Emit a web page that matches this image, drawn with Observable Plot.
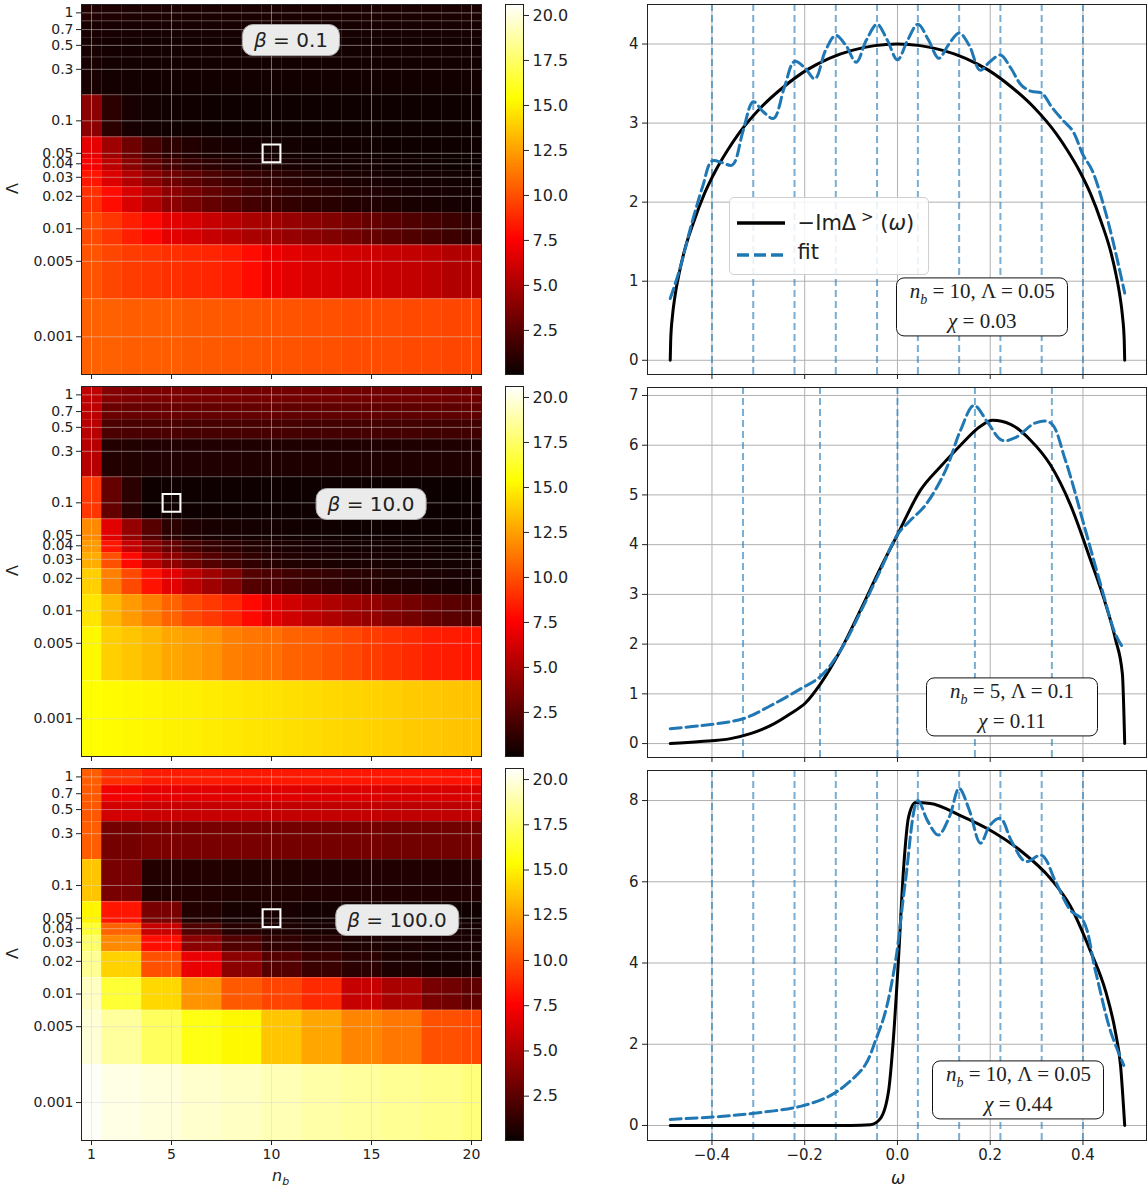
<!DOCTYPE html>
<html><head><meta charset="utf-8">
<script src="https://cdn.jsdelivr.net/npm/d3@7"></script>
<script src="https://cdn.jsdelivr.net/npm/@observablehq/plot@0.6"></script>
<style>
body{margin:0;background:#fff;}
#root{position:relative;width:1148px;height:1192px;overflow:hidden;font-family:"DejaVu Sans",sans-serif;color:#222;}
.beta{position:absolute;transform:translate(-50%,-50%);background:#ebebeb;border:1px solid #aaa;border-radius:11px;padding:3px 11px;font-size:20px;white-space:nowrap;}
.tex{position:absolute;transform:translate(-50%,-50%);box-sizing:border-box;width:172px;background:#fff;border:1.4px solid #111;border-radius:8px;padding:2px 6px;font-family:"Liberation Serif","DejaVu Serif",serif;font-size:21px;line-height:23px;text-align:center;white-space:nowrap;}
.lab{position:absolute;white-space:nowrap;}
</style></head>
<body><div id="root"></div>
<script>
// ---------------- data ----------------
const lambdas = [1, 0.7, 0.5, 0.3, 0.1, 0.05, 0.04, 0.03, 0.02, 0.01, 0.005, 0.001];
const lambdaLabels = ["1","0.7","0.5","0.3","0.1","0.05","0.04","0.03","0.02","0.01","0.005","0.001"];
const nbValues = [1,2,3,4,5,6,7,8,9,10,11,12,13,14,15,16,17,18,19,20];
const nbTicks = [1,5,10,15,20];
const betas = ["0.1","10.0","100.0"];
const colorTicks = [2.5,5.0,7.5,10.0,12.5,15.0,17.5,20.0];
const colorMin = 0.05, colorMax = 20.61;

// chi values, rows follow lambdas, columns follow nbValues
const chiBeta01 = [
 [0.7,0.65,0.6,0.6,0.55,0.55,0.55,0.55,0.55,0.55,0.55,0.55,0.55,0.55,0.55,0.55,0.55,0.55,0.55,0.55],
 [0.5,0.45,0.42,0.4,0.4,0.4,0.4,0.4,0.4,0.4,0.4,0.4,0.4,0.4,0.4,0.4,0.4,0.4,0.4,0.4],
 [0.4,0.35,0.33,0.32,0.32,0.32,0.32,0.32,0.32,0.32,0.32,0.32,0.32,0.32,0.32,0.32,0.32,0.32,0.32,0.32],
 [0.45,0.33,0.3,0.28,0.28,0.28,0.28,0.28,0.28,0.28,0.28,0.28,0.28,0.28,0.28,0.28,0.28,0.28,0.28,0.28],
 [4.0,1.1,0.45,0.3,0.25,0.22,0.2,0.2,0.2,0.2,0.2,0.2,0.2,0.2,0.2,0.2,0.2,0.2,0.2,0.2],
 [6.8,4.6,3.1,1.9,1.1,0.8,0.55,0.45,0.35,0.3,0.3,0.25,0.25,0.22,0.22,0.2,0.2,0.2,0.2,0.2],
 [7.3,5.5,4.0,2.8,1.9,1.4,1.1,0.85,0.65,0.55,0.45,0.4,0.35,0.3,0.3,0.25,0.25,0.22,0.2,0.2],
 [8.2,6.5,5.2,4.0,3.1,2.6,2.1,1.7,1.4,1.15,0.95,0.8,0.65,0.55,0.45,0.4,0.35,0.3,0.3,0.25],
 [9.0,7.9,6.4,5.2,4.0,3.4,2.8,2.3,1.8,1.5,1.3,1.1,0.95,0.8,0.7,0.6,0.5,0.45,0.4,0.35],
 [9.8,9.2,8.5,7.8,6.7,6.3,5.8,5.4,4.9,4.6,4.3,4.0,3.7,3.3,2.8,2.5,2.2,1.9,1.6,1.25],
 [10.1,9.7,9.4,9.2,9.0,8.8,8.7,8.4,7.9,7.0,6.7,6.4,6.3,6.1,6.0,5.8,5.7,5.5,5.2,5.1],
 [10.5,10.5,10.4,10.4,10.4,10.3,10.3,10.2,10.2,10.1,10.1,10.0,10.0,9.9,9.9,9.9,9.8,9.8,9.7,9.7]
];
const chiBeta10 = [
 [5.6,3.8,3.6,3.5,3.5,3.4,3.4,3.4,3.3,3.3,3.3,3.3,3.3,3.2,3.2,3.2,3.2,3.2,3.1,3.1],
 [5.5,3.0,2.9,2.9,2.9,2.8,2.8,2.8,2.8,2.8,2.7,2.7,2.7,2.7,2.7,2.6,2.6,2.6,2.6,2.6],
 [5.4,2.1,2.0,2.0,2.0,1.9,1.9,1.9,1.9,1.9,1.9,1.8,1.8,1.8,1.8,1.8,1.8,1.7,1.7,1.7],
 [5.3,0.8,0.75,0.7,0.7,0.7,0.7,0.7,0.65,0.65,0.65,0.65,0.65,0.65,0.65,0.65,0.65,0.65,0.65,0.65],
 [9.2,2.8,1.05,0.2,0.15,0.15,0.15,0.15,0.15,0.15,0.15,0.15,0.15,0.15,0.12,0.12,0.12,0.12,0.12,0.12],
 [11.8,6.7,4.3,2.4,1.05,0.65,0.5,0.4,0.35,0.3,0.28,0.25,0.22,0.2,0.2,0.18,0.18,0.16,0.15,0.15],
 [12.3,8.2,5.8,4.0,2.8,1.9,1.4,1.1,0.8,0.65,0.55,0.45,0.4,0.35,0.3,0.3,0.25,0.25,0.2,0.2],
 [12.9,10.0,7.8,5.5,4.1,3.1,2.3,1.7,1.2,0.9,0.75,0.65,0.55,0.5,0.45,0.4,0.35,0.3,0.3,0.3],
 [13.9,11.5,9.8,8.1,6.7,5.5,4.6,3.7,2.3,2.0,1.7,1.45,1.25,1.05,0.9,0.75,0.65,0.55,0.45,0.4],
 [14.6,13.2,12.3,11.5,10.6,9.8,9.3,8.7,7.8,6.7,6.1,5.5,5.1,4.6,4.2,3.7,3.3,2.8,2.5,2.2],
 [15.2,13.9,13.6,13.2,12.7,12.4,12.1,11.5,11.2,11.0,10.6,10.4,10.1,9.8,9.4,9.1,8.8,8.5,8.4,8.2],
 [15.4,15.3,15.2,15.1,15.0,14.9,14.8,14.7,14.6,14.5,14.4,14.3,14.2,14.1,14.0,13.9,13.8,13.7,13.6,13.5]
];
const chiBeta100 = [
 [10.4,9.0,9.0,8.4,8.4,8.4,8.4,8.3,8.3,8.3,8.3,8.3,8.3,8.2,8.2,8.2,8.2,8.2,8.1,8.1],
 [10.3,7.2,7.2,6.8,6.8,6.7,6.7,6.6,6.6,6.6,6.6,6.5,6.5,6.5,6.5,6.4,6.4,6.4,6.4,6.4],
 [10.2,6.2,6.2,5.9,5.9,5.8,5.8,5.8,5.8,5.7,5.7,5.7,5.7,5.7,5.7,5.6,5.6,5.6,5.6,5.6],
 [10.4,3.3,3.3,3.5,3.5,3.4,3.4,3.4,3.4,3.3,3.3,3.3,3.3,3.3,3.3,3.2,3.2,3.2,3.2,3.2],
 [13.6,3.4,3.4,0.8,0.8,0.8,0.8,0.75,0.75,0.75,0.75,0.7,0.7,0.7,0.7,0.7,0.7,0.7,0.7,0.7],
 [15.1,8.2,8.2,3.4,3.4,0.8,0.8,0.4,0.4,0.5,0.5,0.3,0.3,0.3,0.3,0.25,0.25,0.25,0.25,0.25],
 [16.5,10.6,10.6,5.8,5.8,2.2,2.2,0.9,0.9,0.6,0.6,0.5,0.5,0.45,0.45,0.4,0.4,0.4,0.4,0.4],
 [17.6,11.8,11.8,8.0,8.0,4.0,4.0,2.2,2.2,1.2,1.2,0.9,0.9,0.6,0.6,0.55,0.55,0.5,0.5,0.5],
 [18.4,14.0,14.0,10.0,10.0,6.9,6.9,4.0,4.0,2.3,2.3,1.5,1.5,1.0,1.0,0.6,0.6,0.4,0.4,0.4],
 [19.4,16.5,16.5,14.2,14.2,12.1,12.1,10.3,10.3,9.6,9.6,8.8,8.8,5.8,5.8,4.9,4.9,3.4,3.2,2.6],
 [19.8,18.6,18.6,17.3,17.3,15.8,15.8,15.2,15.2,13.6,13.6,12.7,12.7,11.6,11.6,11.2,11.2,10.0,10.0,9.8],
 [20.5,20.1,20.1,19.9,19.9,19.6,19.6,19.4,19.4,19.1,19.1,18.8,18.8,18.6,18.6,18.4,18.4,18.2,18.2,17.9]
];
const markerNb = [10, 5, 10];
const markerLambda = [0.05, 0.1, 0.05];
const betaLabelNb = [11, 15, 16.3];
const betaLabelLambda = [0.55, 0.097, 0.048];

// right column: spectral function and fit
const omegaTicks = [-0.4,-0.2,0.0,0.2,0.4];
const yTicks1 = [0,1,2,3,4];
const yTicks2 = [0,1,2,3,4,5,6,7];
const yTicks3 = [0,2,4,6,8];
const poles10 = [-0.4,-0.311,-0.222,-0.133,-0.044,0.044,0.133,0.222,0.311,0.4];
const poles5 = [-0.333,-0.167,0,0.167,0.333];
const seriesNames = ["\u2212Im\u0394", "fit"];
const boxNb = ["10","5","10"];
const boxLambda = ["0.05","0.1","0.05"];
const boxChi = ["0.03","0.11","0.44"];
const boxOmega = [0.184, 0.248, 0.262];
const boxValue = [0.67, 0.72, 0.86];

const exact1 = [[-0.49,0],[-0.489,0.25],[-0.485,0.57],[-0.48,0.8],[-0.47,1.12],[-0.46,1.37],[-0.44,1.74],[-0.416,2.11],[-0.392,2.4],[-0.367,2.65],[-0.343,2.86],[-0.294,3.2],[-0.245,3.46],[-0.196,3.67],[-0.147,3.82],[-0.098,3.92],[-0.049,3.98],[0,4.0],[0.049,3.98],[0.098,3.92],[0.147,3.82],[0.196,3.67],[0.245,3.46],[0.294,3.2],[0.343,2.86],[0.367,2.65],[0.392,2.4],[0.416,2.11],[0.44,1.74],[0.46,1.37],[0.47,1.12],[0.48,0.8],[0.485,0.57],[0.489,0.25],[0.49,0]];
const fit1 = [[-0.49,0.78],[-0.47,1.14],[-0.445,1.7],[-0.42,2.2],[-0.4,2.52],[-0.378,2.5],[-0.356,2.47],[-0.333,2.9],[-0.311,3.27],[-0.289,3.14],[-0.267,3.06],[-0.244,3.45],[-0.222,3.78],[-0.2,3.7],[-0.178,3.56],[-0.155,3.92],[-0.133,4.11],[-0.111,3.98],[-0.089,3.77],[-0.067,4.05],[-0.044,4.25],[-0.022,4.05],[0,3.8],[0.022,4.05],[0.044,4.25],[0.067,4.05],[0.089,3.82],[0.111,4.0],[0.133,4.14],[0.155,3.98],[0.178,3.67],[0.2,3.78],[0.222,3.86],[0.244,3.7],[0.267,3.48],[0.289,3.4],[0.311,3.38],[0.333,3.2],[0.356,3.04],[0.378,2.9],[0.4,2.6],[0.42,2.4],[0.445,1.95],[0.467,1.45],[0.49,0.85]];
const exact2 = [[-0.49,0],[-0.425,0.04],[-0.36,0.1],[-0.317,0.2],[-0.274,0.36],[-0.231,0.6],[-0.198,0.82],[-0.166,1.2],[-0.123,1.87],[-0.08,2.68],[-0.037,3.52],[0,4.2],[0.05,5.1],[0.093,5.57],[0.136,6.0],[0.179,6.38],[0.205,6.5],[0.244,6.42],[0.287,6.1],[0.33,5.6],[0.373,4.8],[0.416,3.7],[0.449,2.8],[0.47,2.1],[0.485,1.4],[0.49,0]];
const fit2 = [[-0.49,0.3],[-0.425,0.36],[-0.333,0.5],[-0.274,0.76],[-0.209,1.1],[-0.166,1.35],[-0.123,1.87],[-0.08,2.64],[-0.037,3.48],[0,4.2],[0.028,4.49],[0.06,4.79],[0.104,5.5],[0.136,6.3],[0.165,6.8],[0.195,6.45],[0.225,6.1],[0.254,6.15],[0.298,6.45],[0.33,6.45],[0.362,5.7],[0.405,4.3],[0.438,3.2],[0.47,2.2],[0.488,1.9]];
const exact3 = [[-0.49,0],[-0.3,0],[-0.1,0],[-0.058,0.02],[-0.037,0.17],[-0.019,0.86],[-0.009,2.1],[0.002,4.06],[0.013,6.3],[0.024,7.6],[0.039,7.95],[0.071,7.93],[0.136,7.63],[0.2,7.27],[0.265,6.77],[0.33,6.08],[0.373,5.4],[0.416,4.3],[0.449,3.3],[0.47,2.3],[0.481,1.48],[0.49,0]];
const fit3 = [[-0.49,0.15],[-0.382,0.22],[-0.295,0.32],[-0.209,0.47],[-0.144,0.74],[-0.101,1.1],[-0.069,1.5],[-0.047,2.1],[-0.026,2.8],[-0.004,4.06],[0.017,6.0],[0.044,8.0],[0.065,7.5],[0.088,7.15],[0.112,7.6],[0.133,8.3],[0.155,7.76],[0.179,6.95],[0.2,7.4],[0.222,7.56],[0.246,7.0],[0.276,6.5],[0.311,6.65],[0.341,6.0],[0.373,5.3],[0.4,5.05],[0.427,3.8],[0.459,2.34],[0.488,1.48]];

// -------------- helpers ----------------
const root = document.getElementById("root");
function hot(t){
  t = Math.max(0, Math.min(1, t));
  const r = t < 0.365079 ? 0.0416 + (1 - 0.0416) * t / 0.365079 : 1;
  const g = t < 0.365079 ? 0 : t < 0.746032 ? (t - 0.365079) / (0.746032 - 0.365079) : 1;
  const b = t < 0.746032 ? 0 : (t - 0.746032) / (1 - 0.746032);
  return `rgb(${Math.round(r*255)},${Math.round(g*255)},${Math.round(b*255)})`;
}
function put(el, left, top){ el.style.position = "absolute"; el.style.left = left + "px"; el.style.top = top + "px"; root.appendChild(el); return el; }
function div(cls, html, left, top){ const d = document.createElement("div"); d.className = cls; d.innerHTML = html; d.style.left = left + "px"; d.style.top = top + "px"; root.appendChild(d); return d; }

// cell edges in log space (geometric means), like pcolormesh nearest shading
const lamEdges = [];
lamEdges.push(lambdas[0] * Math.sqrt(lambdas[0] / lambdas[1]));
for (let i = 0; i < lambdas.length - 1; i++) lamEdges.push(Math.sqrt(lambdas[i] * lambdas[i+1]));
const nL = lambdas.length;
lamEdges.push(lambdas[nL-1] * Math.sqrt(lambdas[nL-1] / lambdas[nL-2]));
const nbEdges = nbValues.slice(0, -1).map(n => n + 0.5);
const lamLabel = new Map(lambdas.map((l, i) => [l, lambdaLabels[i]]));
const grids = [chiBeta01, chiBeta10, chiBeta100];
const colorScale = {type: "linear", domain: [colorMin, colorMax], interpolate: hot};

const heatTop = [4, 386, 768], heatBottom = [374, 756, 1140];
const HL = 81, HR = 481;
const xMin = nbValues[0] - 0.5, xMax = nbValues[nbValues.length-1] + 0.5;

for (let k = 0; k < 3; k++) {
  const mt = 10, mb = k === 2 ? 32 : 10;
  const h = heatBottom[k] - heatTop[k];
  const cells = [];
  grids[k].forEach((row, i) => row.forEach((v, j) => cells.push({nb: nbValues[j], hi: lamEdges[i], lo: lamEdges[i+1], v})));
  const p = Plot.plot({
    width: HR + 8, height: h + mt + mb,
    marginLeft: HL, marginRight: 8, marginTop: mt, marginBottom: mb,
    x: {domain: [xMin, xMax]},
    y: {type: "log", domain: [lamEdges[lamEdges.length-1], lamEdges[0]]},
    color: colorScale,
    style: {fontFamily: "DejaVu Sans", fontSize: "13px", background: "transparent", color: "#222", overflow: "visible"},
    marks: [
      Plot.rect(cells, {x1: d => d.nb - 0.5, x2: d => d.nb + 0.5, y1: "lo", y2: "hi", fill: "v"}),
      Plot.ruleX(nbEdges, {stroke: "#fff", strokeOpacity: 0.13}),
      Plot.ruleY(lamEdges.slice(1, -1), {stroke: "#fff", strokeOpacity: 0.13}),
      Plot.gridX(nbTicks, {stroke: "#d8d8d8", strokeOpacity: 0.5, strokeWidth: 1}),
      Plot.gridY(lambdas, {stroke: "#d8d8d8", strokeOpacity: 0.5, strokeWidth: 1}),
      Plot.axisY(lambdas, {tickFormat: () => "", tickSize: 5, label: null}),
      Plot.text(lambdas, {x: () => xMin, y: d => d, text: d => lamLabel.get(d), textAnchor: "end", dx: -8, fontSize: 14, fill: "#222"}),
      Plot.axisX(nbTicks, {tickSize: 5, tickPadding: 4, fontSize: 14, label: null, tickFormat: k === 2 ? (d => String(d)) : (() => "")}),
      Plot.dot([{nb: markerNb[k], lam: markerLambda[k]}], {x: "nb", y: "lam", symbol: "square", r: 10, stroke: "#fff", strokeWidth: 2, fill: "none"}),
      Plot.frame({stroke: "#222", strokeWidth: 1})
    ]
  });
  put(p, 0, heatTop[k] - mt);
  const sx = p.scale("x"), sy = p.scale("y");
  div("beta", `<i>β</i> = ${betas[k]}`, sx.apply(betaLabelNb[k]), heatTop[k] - mt + sy.apply(betaLabelLambda[k]));
  const yl = div("lab", "Λ", 7, (heatTop[k] + heatBottom[k]) / 2 - 10);
  yl.style.fontSize = "16px"; yl.style.transform = "rotate(-90deg)";

  // colorbar
  const cmt = 10, cmb = 10;
  const bands = d3.range(colorMin, colorMax, 0.1).map(v => ({lo: v, hi: Math.min(colorMax, v + 0.3), v: v + 0.05}));
  const cb = Plot.plot({
    width: 2 + 18 + 60, height: h + cmt + cmb,
    marginLeft: 2, marginRight: 60, marginTop: cmt, marginBottom: cmb,
    x: {domain: [0, 1], axis: null},
    y: {domain: [colorMin, colorMax]},
    color: colorScale,
    style: {fontFamily: "DejaVu Sans", fontSize: "16px", background: "transparent", color: "#222"},
    marks: [
      Plot.rect(bands, {x1: () => 0, x2: () => 1, y1: "lo", y2: "hi", fill: "v", shapeRendering: "crispEdges"}),
      Plot.axisY(colorTicks, {anchor: "right", tickFormat: d3.format(".1f"), tickSize: 5, tickPadding: 4, fontSize: 16, label: null}),
      Plot.frame({stroke: "#222", strokeWidth: 1})
    ]
  });
  put(cb, 505 - 2, heatTop[k] - cmt);
}
{ const nl = div("lab", "<i>n</i><sub style='font-size:11px'><i>b</i></sub>", 272, 1166); nl.style.fontSize = "16px"; }

// -------------- right column --------------
const rTop = [4, 387, 770], rBottom = [374, 757, 1140];
const yDomains = [[-0.18, 4.5], [-0.28, 7.16], [-0.37, 8.74]];
const yTicksAll = [yTicks1, yTicks2, yTicks3];
const exacts = [exact1, exact2, exact3];
const fits = [fit1, fit2, fit3];
const polesAll = [poles10, poles5, poles10];
const RL = 647, RR = 1146;
for (let k = 0; k < 3; k++) {
  const mt = 10, mb = k === 2 ? 32 : 10, ml = 40;
  const h = rBottom[k] - rTop[k];
  const p = Plot.plot({
    width: ml + (RR - RL) + 2, height: h + mt + mb,
    marginLeft: ml, marginRight: 2, marginTop: mt, marginBottom: mb,
    x: {domain: [-0.539, 0.537]},
    y: {domain: yDomains[k]},
    style: {fontFamily: "DejaVu Sans", fontSize: "15px", background: "transparent", color: "#222", overflow: "visible"},
    marks: [
      Plot.gridX(omegaTicks, {stroke: "#b0b0b0", strokeOpacity: 1, strokeWidth: 1}),
      Plot.gridY(yTicksAll[k], {stroke: "#b0b0b0", strokeOpacity: 1, strokeWidth: 1}),
      Plot.ruleX(polesAll[k], {stroke: "#1f77b4", strokeOpacity: 0.6, strokeWidth: 2, strokeDasharray: "7,4"}),
      Plot.line(exacts[k], {x: d => d[0], y: d => d[1], stroke: "#000", strokeWidth: 3, curve: "monotone-x"}),
      Plot.line(fits[k], {x: d => d[0], y: d => d[1], stroke: "#1f77b4", strokeWidth: 3, strokeDasharray: "11,5", curve: "catmull-rom"}),
      Plot.axisY(yTicksAll[k], {tickSize: 5, tickPadding: 4, fontSize: 15, label: null, tickFormat: d => String(d)}),
      Plot.axisX(omegaTicks, {tickSize: 5, tickPadding: 4, fontSize: 15, label: null, tickFormat: k === 2 ? d3.format(".1f") : (() => "")}),
      Plot.frame({stroke: "#222", strokeWidth: 1})
    ]
  });
  const left = RL - ml, top = rTop[k] - mt;
  put(p, left, top);
  const sx = p.scale("x"), sy = p.scale("y");
  div("tex", `<i>n<sub style="font-size:14px">b</sub></i> = ${boxNb[k]}, Λ = ${boxLambda[k]}<br><i>χ</i> = ${boxChi[k]}`,
      left + sx.apply(boxOmega[k]), top + sy.apply(boxValue[k]));
  if (k === 0) {
    const lx = left + sx.apply(-0.363), ly = top + sy.apply(2.06);
    const lg = document.createElement("div");
    lg.style.cssText = `position:absolute;left:${lx}px;top:${ly}px;width:198px;height:76px;border:1px solid #d0d0d0;border-radius:5px;background:rgba(255,255,255,0.85);font-size:21px;`;
    lg.innerHTML = `<svg width="60" height="76" style="position:absolute;left:0;top:0">
      <line x1="7" x2="55" y1="25" y2="25" stroke="#000" stroke-width="3.5"/>
      <line x1="7" x2="55" y1="57" y2="57" stroke="#1f77b4" stroke-width="3.5" stroke-dasharray="12,5"/></svg>
      <div style="position:absolute;left:68px;top:10px;white-space:nowrap">${seriesNames[0]}<sup style="font-size:15px">&nbsp;&gt;</sup>&nbsp;(<i>ω</i>)</div>
      <div style="position:absolute;left:68px;top:42px">${seriesNames[1]}</div>`;
    root.appendChild(lg);
  }
}
{ const wl = div("lab", "<i>ω</i>", 891, 1168); wl.style.fontSize = "17px"; }
</script>
</body></html>
